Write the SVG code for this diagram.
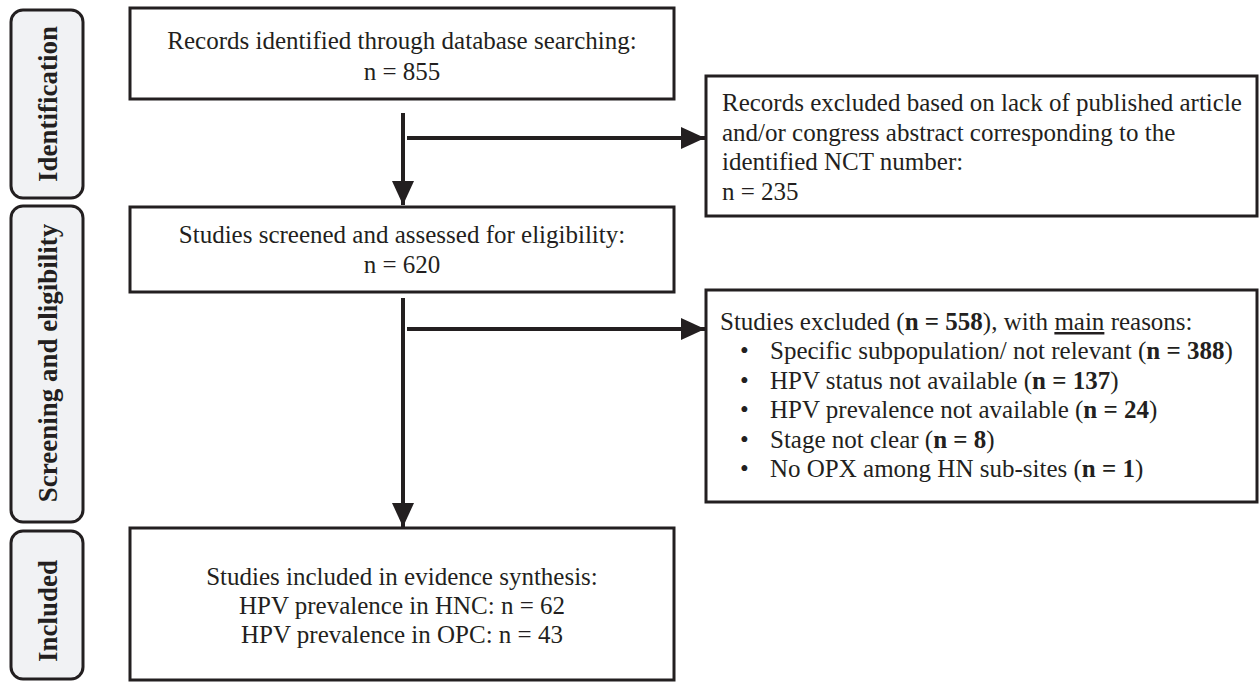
<svg xmlns="http://www.w3.org/2000/svg" width="1260" height="682" viewBox="0 0 1260 682">
<defs>
<style>
.box{fill:#fff;stroke:#231f20;stroke-width:3}
.side{fill:#f1f2f4;stroke:#231f20;stroke-width:3}
.t{font-family:"Liberation Serif","Times New Roman",serif;font-size:25px;fill:#231f20}
.c{text-anchor:middle}
.s{font-family:"Liberation Serif","Times New Roman",serif;font-size:27px;font-weight:bold;fill:#231f20;text-anchor:middle}
.b{font-weight:bold}
.ln{stroke:#231f20;stroke-width:4;fill:none}
</style>
<marker id="ah" markerUnits="userSpaceOnUse" markerWidth="24" markerHeight="22" refX="24" refY="11" orient="auto">
<path d="M0,0 L24,11 L0,22 Z" fill="#231f20"/>
</marker>
</defs>
<rect width="1260" height="682" fill="#fff"/>
<g id="phase-identification">
<rect class="side" x="11" y="10" width="72" height="188" rx="12"/>
<text class="s" transform="translate(57,104) rotate(-90)">Identification</text>
</g>
<g id="phase-screening">
<rect class="side" x="11" y="206" width="72" height="316" rx="12"/>
<text class="s" transform="translate(57,363) rotate(-90)">Screening and eligibility</text>
</g>
<g id="phase-included">
<rect class="side" x="11" y="531" width="72" height="148" rx="12"/>
<text class="s" transform="translate(57,611) rotate(-90)">Included</text>
</g>
<g id="connectors">
<line class="ln" x1="403" y1="113" x2="403" y2="205" marker-end="url(#ah)"/>
<line class="ln" x1="407" y1="138" x2="705" y2="138" marker-end="url(#ah)"/>
<line class="ln" x1="403" y1="298" x2="403" y2="527" marker-end="url(#ah)"/>
<line class="ln" x1="407" y1="329" x2="705" y2="329" marker-end="url(#ah)"/>
</g>
<g id="records-identified">
<rect class="box" x="130" y="8" width="544" height="91"/>
<text class="t c" x="402" y="49">Records identified through database searching:</text>
<text class="t c" x="402" y="80">n = 855</text>
</g>
<g id="records-excluded">
<rect class="box" x="706" y="76" width="551" height="140"/>
<text class="t" x="722" y="111">Records excluded based on lack of published article</text>
<text class="t" x="722" y="140.5">and/or congress abstract corresponding to the</text>
<text class="t" x="722" y="170">identified NCT number:</text>
<text class="t" x="722" y="199.5">n = 235</text>
</g>
<g id="studies-screened">
<rect class="box" x="130" y="207" width="544" height="85"/>
<text class="t c" x="402" y="243">Studies screened and assessed for eligibility:</text>
<text class="t c" x="402" y="273">n = 620</text>
</g>
<g id="studies-excluded">
<rect class="box" x="706" y="290" width="551" height="212"/>
<text class="t" x="720" y="330">Studies excluded (<tspan class="b">n = 558</tspan>), with <tspan text-decoration="underline">main</tspan> reasons:</text>
<text class="t" x="740" y="359">•</text>
<text class="t" x="770" y="359">Specific subpopulation/ not relevant (<tspan class="b">n = 388</tspan>)</text>
<text class="t" x="740" y="388.5">•</text>
<text class="t" x="770" y="388.5">HPV status not available (<tspan class="b">n = 137</tspan>)</text>
<text class="t" x="740" y="418">•</text>
<text class="t" x="770" y="418">HPV prevalence not available (<tspan class="b">n = 24</tspan>)</text>
<text class="t" x="740" y="447.5">•</text>
<text class="t" x="770" y="447.5">Stage not clear (<tspan class="b">n = 8</tspan>)</text>
<text class="t" x="740" y="477">•</text>
<text class="t" x="770" y="477">No OPX among HN sub-sites (<tspan class="b">n = 1</tspan>)</text>
</g>
<g id="studies-included">
<rect class="box" x="130" y="528" width="544" height="152"/>
<text class="t c" x="402" y="585">Studies included in evidence synthesis:</text>
<text class="t c" x="402" y="614">HPV prevalence in HNC: n = 62</text>
<text class="t c" x="402" y="643">HPV prevalence in OPC: n = 43</text>
</g>
</svg>
